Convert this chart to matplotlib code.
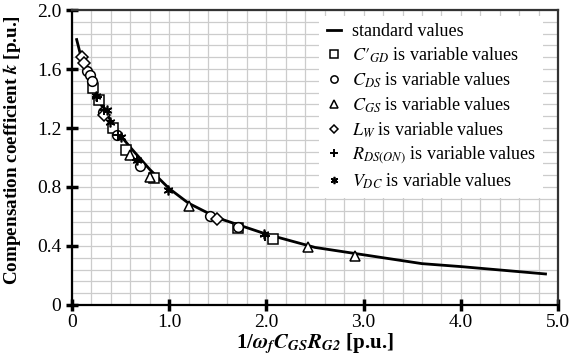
import numpy as np
import matplotlib as mpl
import matplotlib.pyplot as plt
from matplotlib.ticker import MultipleLocator

mpl.rcParams["font.family"] = ["Liberation Serif", "DejaVu Serif"]
mpl.rcParams["mathtext.fontset"] = "stix"

# standard curve
std_x = [0.05, 0.10, 0.20, 0.30, 0.40, 0.50, 0.60, 0.80, 1.00, 1.20, 1.50, 2.00, 2.50, 3.00, 3.60, 4.00, 4.87]
std_k = [1.80, 1.67, 1.50, 1.36, 1.25, 1.15, 1.07, 0.92, 0.79, 0.69, 0.59, 0.48, 0.39, 0.34, 0.28, 0.26, 0.21]

# variable-parameter points
cgd_x = [0.22, 0.28, 0.42, 0.56, 0.85, 1.71, 2.07]
cgd_k = [1.47, 1.39, 1.20, 1.05, 0.86, 0.52, 0.45]

cds_x = [0.16, 0.19, 0.21, 0.32, 0.46, 0.70, 1.42, 1.71]
cds_k = [1.59, 1.56, 1.52, 1.31, 1.15, 0.94, 0.60, 0.53]

cgs_x = [0.60, 0.80, 1.21, 2.43, 2.91]
cgs_k = [1.02, 0.87, 0.67, 0.39, 0.33]

lw_x = [0.10, 0.13, 0.33, 1.49]
lw_k = [1.68, 1.64, 1.29, 0.58]

rds_x = [0.26, 0.33, 0.47, 0.67, 1.99]
rds_k = [1.41, 1.32, 1.15, 0.98, 0.47]

vdc_x = [0.25, 0.36, 0.39, 0.51, 0.67, 0.99, 1.98]
vdc_k = [1.42, 1.32, 1.24, 1.14, 0.98, 0.78, 0.48]

x_ticks = [0, 1, 2, 3, 4, 5]
x_labels = ["0", "1.0", "2.0", "3.0", "4.0", "5.0"]
y_ticks = [0, 0.4, 0.8, 1.2, 1.6, 2.0]
y_labels = ["0", "0.4", "0.8", "1.2", "1.6", "2.0"]

fig = plt.figure(figsize=(5.79, 3.6), dpi=100)
ax = fig.add_axes([0.124, 0.153, 0.84, 0.819])

ax.plot(std_x, std_k, color="black", lw=2, label="standard values", zorder=3)

mk = dict(linestyle="none", mfc="white", mec="black", mew=1.1, ms=7, zorder=4)
ax.plot(cgd_x, cgd_k, marker="s", label=r"$C{\prime}_{GD}$ is variable values", **mk)
ax.plot(cds_x, cds_k, marker="o", label=r"$C_{DS}$ is variable values", **mk)
ax.plot(cgs_x, cgs_k, marker="^", label=r"$C_{GS}$ is variable values", **mk)
ax.plot(lw_x, lw_k, marker="D", label=r"$L_{W}$ is variable values",
        **{**mk, "ms": 6})
ax.plot(rds_x, rds_k, marker="+", label=r"$R_{DS(ON)}$ is variable values",
        **{**mk, "mew": 1.4})
ax.plot(vdc_x, vdc_k, marker=(6, 2, 0), label=r"$V_{DC}$ is variable values",
        **{**mk, "mew": 1.2})

ax.set_xlim(0, 5)
ax.set_ylim(0, 2.0)
ax.set_xticks(x_ticks)
ax.set_xticklabels(x_labels)
ax.set_yticks(y_ticks)
ax.set_yticklabels(y_labels)
ax.xaxis.set_minor_locator(MultipleLocator(0.2))
ax.yaxis.set_minor_locator(MultipleLocator(0.08))
ax.grid(which="both", color="#cccccc", lw=0.9)
ax.set_axisbelow(True)

ax.tick_params(which="major", direction="inout", length=9, width=2.5,
               labelsize=14, color="black")
ax.tick_params(axis="x", which="major", pad=2)
ax.tick_params(axis="y", which="major", pad=3)
ax.tick_params(which="minor", length=0)

for side in ("left", "bottom"):
    ax.spines[side].set_color("black")
    ax.spines[side].set_linewidth(1.6)
for side in ("top", "right"):
    ax.spines[side].set_color("#333333")
    ax.spines[side].set_linewidth(1.6)

ax.set_xlabel(r"1/$\mathbfit{\omega}_\mathbfit{f}\mathbfit{C}_\mathbfit{GS}\mathbfit{R}_\mathbfit{G2}$ [p.u.]",
              fontsize=15, fontweight="bold", labelpad=0)
ax.set_ylabel(r"Compensation coefficient $\mathbfit{k}$ [p.u.]",
              fontsize=13.8, fontweight="bold")
ax.yaxis.set_label_coords(-0.1, 0.525)

leg = ax.legend(loc="upper right", bbox_to_anchor=(0.988, 1.01), fontsize=13,
                frameon=True, edgecolor="none", facecolor="white", framealpha=1,
                fancybox=False, handlelength=0.8, handletextpad=0.6,
                labelspacing=0.3, borderpad=0.4, markerscale=0.75)

fig.savefig("out.png", dpi=100)
